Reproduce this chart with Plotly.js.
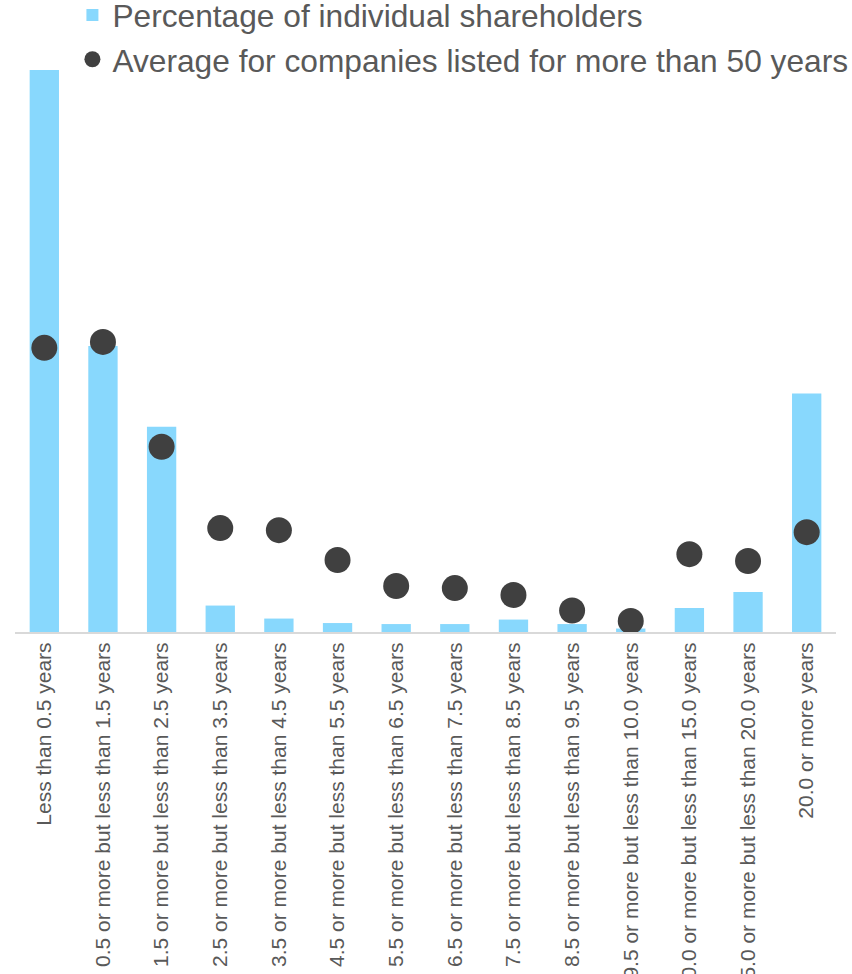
<!DOCTYPE html>
<html>
<head>
<meta charset="utf-8">
<script src="https://cdn.plot.ly/plotly-3.0.1.min.js"></script>
<style>html,body{margin:0;padding:0;background:#fff;}#chart{width:852px;height:974px;}</style>
</head>
<body>
<div id="chart"></div>
<script>
const categories = [
  "Less than 0.5 years",
  "0.5 or more but less than 1.5 years",
  "1.5 or more but less than 2.5 years",
  "2.5 or more but less than 3.5 years",
  "3.5 or more but less than 4.5 years",
  "4.5 or more but less than 5.5 years",
  "5.5 or more but less than 6.5 years",
  "6.5 or more but less than 7.5 years",
  "7.5 or more but less than 8.5 years",
  "8.5 or more but less than 9.5 years",
  "9.5 or more but less than 10.0 years",
  "10.0 or more but less than 15.0 years",
  "15.0 or more but less than 20.0 years",
  "20.0 or more years"
];
const individualShare = [38.9, 19.8, 14.2, 1.83, 0.93, 0.62, 0.55, 0.55, 0.86, 0.55, 0.24, 1.66, 2.77, 16.5];
const avgOver50Years = [19.67, 20.08, 12.82, 7.19, 7.05, 4.98, 3.18, 3.04, 2.56, 1.49, 0.76, 5.39, 4.91, 6.91];
const seriesNames = ["Percentage of individual shareholders", "Average for companies listed for more than 50 years"];

const traces = [
  {
    type: "bar",
    x: categories,
    y: individualShare,
    name: seriesNames[0],
    marker: {color: "#88D8FD"},
    hoverinfo: "x+y"
  },
  {
    type: "scatter",
    mode: "markers",
    x: categories,
    y: avgOver50Years,
    name: seriesNames[1],
    marker: {color: "#404040", size: 26},
    cliponaxis: false,
    hoverinfo: "x+y"
  }
];

const layout = {
  width: 852,
  height: 974,
  margin: {l: 15, r: 16, t: 70, b: 342, pad: 0, autoexpand: false},
  paper_bgcolor: "#ffffff",
  plot_bgcolor: "#ffffff",
  font: {family: "Liberation Sans, Arial, sans-serif", color: "#595959"},
  bargap: 0.5,
  showlegend: true,
  legend: {
    xref: "container", yref: "paper",
    x: 0.085, y: 1.146, xanchor: "left", yanchor: "top",
    font: {size: 31.7, color: "#595959"},
    bgcolor: "rgba(0,0,0,0)",
    traceorder: "normal"
  },
  xaxis: {
    type: "category",
    range: [-0.5, categories.length - 0.5],
    tickangle: -90,
    tickfont: {size: 21, color: "#595959"},
    showline: true,
    linecolor: "#D9D9D9",
    linewidth: 2,
    showgrid: false,
    ticks: "",
    automargin: false,
    fixedrange: true
  },
  yaxis: {
    range: [0, 38.9],
    visible: false,
    showgrid: false,
    zeroline: false,
    automargin: false,
    fixedrange: true
  }
};

Plotly.newPlot("chart", traces, layout, {displayModeBar: false, staticPlot: true});
</script>
</body>
</html>
